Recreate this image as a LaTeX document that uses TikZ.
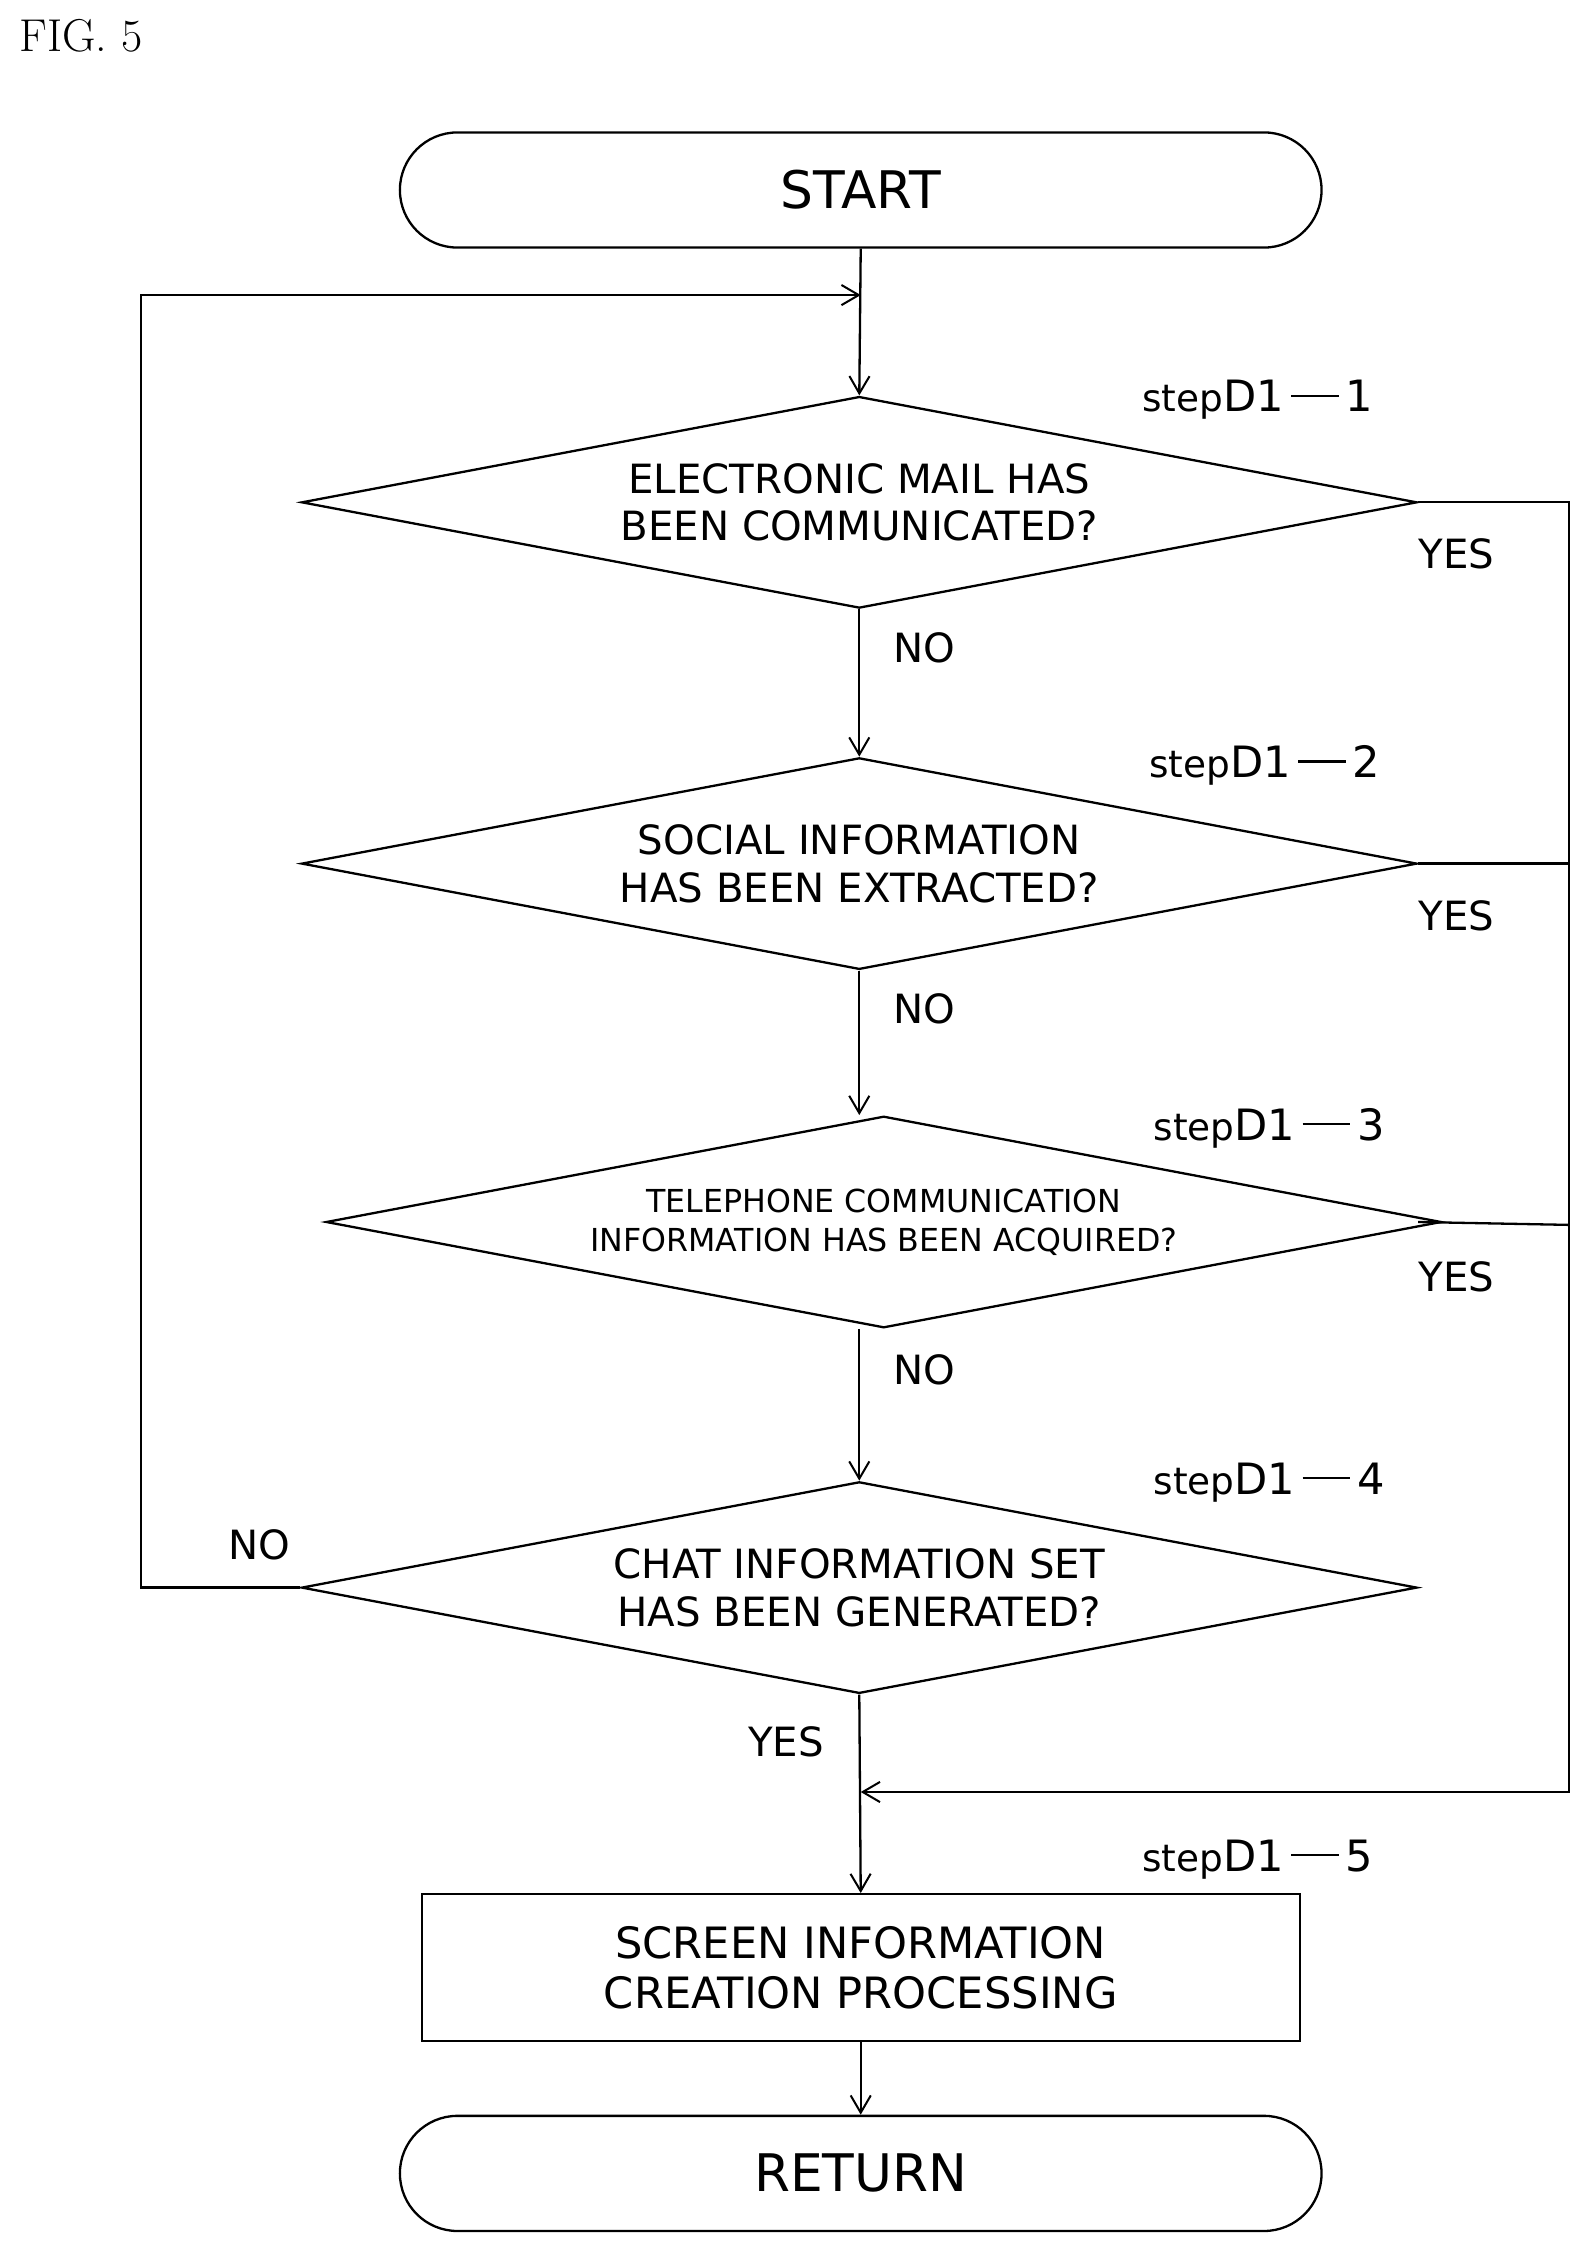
\documentclass[tikz,border=0pt]{standalone}
\usepackage{fontspec}
\setsansfont{DejaVu Sans}
\usetikzlibrary{shapes.geometric,shapes.misc,arrows.meta}
\newcommand{\stp}[1]{{\fontsize{26}{28}\selectfont step}{\fontsize{30}{32}\selectfont D1\,\rule[0.35em]{1.1em}{1.6pt}\,#1}}
\begin{document}
\begin{tikzpicture}[x=1pt,y=-1pt,
  every node/.style={font=\sffamily},
  ln/.style={line width=1.6pt},
  arr/.style={ln,-{Straight Barb[length=12pt,width=14pt,line width=1.4pt]}},
  term/.style={draw,ln,rounded rectangle,minimum width=647pt,minimum height=80pt,font=\sffamily\fontsize{36}{40}\selectfont},
  dec/.style={draw,ln,diamond,aspect=5.27,minimum width=775pt,minimum height=147pt,inner sep=0pt,align=center,font=\sffamily\fontsize{28}{33}\selectfont},
  lab/.style={font=\sffamily\fontsize{28}{30}\selectfont},
  steplab/.style={font=\sffamily,anchor=west}]
\useasboundingbox (0,0) rectangle (1105,1566);
\node[anchor=north west,font=\rmfamily\fontsize{32}{34}\selectfont] (fig) at (10,10) {FIG. 5};
\node[term] (start) at (598,132) {START};
\node[dec] (d1) at (597,349) {ELECTRONIC MAIL HAS\\BEEN COMMUNICATED?};
\node[dec] (d2) at (597,600) {SOCIAL INFORMATION\\HAS BEEN EXTRACTED?};
\node[dec,font=\sffamily\fontsize{22}{27}\selectfont] (d3) at (614,849) {TELEPHONE COMMUNICATION\\INFORMATION HAS BEEN ACQUIRED?};
\node[dec] (d4) at (597,1103) {CHAT INFORMATION SET\\HAS BEEN GENERATED?};
\node[draw,ln,minimum width=610pt,minimum height=102pt,align=center,font=\sffamily\fontsize{30}{35}\selectfont] (box) at (598,1367) {SCREEN INFORMATION\\CREATION PROCESSING};
\node[term] (ret) at (598,1510) {RETURN};
\node[steplab] (s1) at (790,278) {\stp{1}};
\node[steplab] (s2) at (795,532) {\stp{2}};
\node[steplab] (s3) at (798,784) {\stp{3}};
\node[steplab] (s4) at (798,1030) {\stp{4}};
\node[steplab] (s5) at (790,1292) {\stp{5}};
\node[lab] (y1) at (1012,385) {YES};
\node[lab] (y2) at (1012,636) {YES};
\node[lab] (y3) at (1012,887) {YES};
\node[lab] (n1) at (642,450) {NO};
\node[lab] (n2) at (642,701) {NO};
\node[lab] (n3) at (642,952) {NO};
\node[lab] (n4) at (180,1073) {NO};
\node[lab] (y4) at (546,1210) {YES};
\coordinate (j1) at (598,205);
\coordinate (j2) at (598,1245);
\draw[arr] (start.south) -- (d1.north);
\draw[arr] (d1.south) -- (d2.north);
\draw[arr] (d2.south) -- (d3.north -| d2.north);
\draw[arr] (d3.south -| d2.south) -- (d4.north);
\draw[arr] (d4.south) -- (box.north);
\draw[arr] (box.south) -- (ret.north);
\draw[arr] (d4.west) -- (98,1103) -- (98,205) -- (j1);
\draw[arr] (d1.east) -- (1090,349) -- (1090,1245) -- (j2);
\draw[ln] (d2.east) -- (1090,600);
\draw[ln] (d3.east -| d2.east) -- (1090,851);
\end{tikzpicture}
\end{document}
